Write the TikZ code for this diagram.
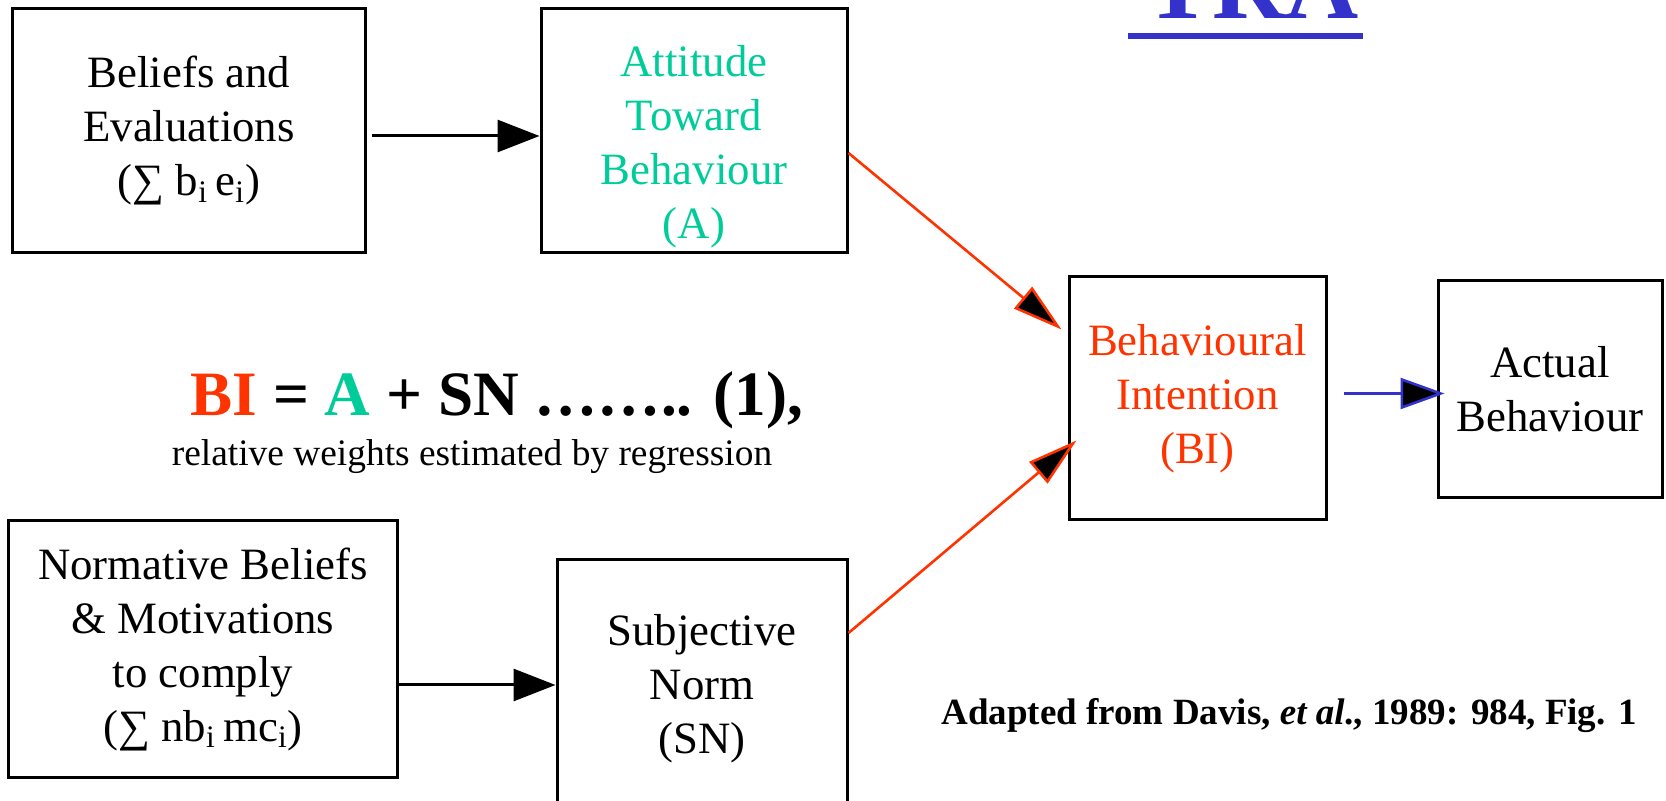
\documentclass[tikz,border=0pt]{standalone}
\usepackage{fontspec}
\setmainfont{Liberation Serif}
\usepackage{xcolor}
\usetikzlibrary{calc,arrows.meta}
\definecolor{trared}{HTML}{FF3300}
\definecolor{tragreen}{HTML}{00CC99}
\definecolor{trablue}{HTML}{3333CC}

\begin{document}
\begin{tikzpicture}[x=0.5pt,y=-0.5pt]
        \tikzstyle{box}=[draw,line width=1.5pt,align=center,inner sep=0pt,font=\fontsize{22.4}{27}\selectfont]
        \tikzstyle{txt}=[inner sep=0pt,anchor=base]
        \tikzstyle{arr}=[line width=1.5pt,-{Triangle[length=21pt,width=16pt,fill=black]}]
        \tikzstyle{redarr}=[trared,line width=1.3pt,-{Triangle[length=25pt,width=14pt,fill=black]}]
        \tikzstyle{bluearr}=[trablue,line width=1.3pt,-{Triangle[length=22pt,width=15.5pt,fill=black]}]
            \useasboundingbox (0,0) rectangle (1666,801);

            \node[box,minimum width=176.5pt,minimum height=122pt] (BE) at (189,131) {Beliefs and\\Evaluations\\(∑ b\textsubscript{i}\,e\textsubscript{i})};
            \node[box,minimum width=153pt,minimum height=122pt,text=tragreen] (AT) at (694,131) {\rule{0pt}{31pt}Attitude\\Toward\\Behaviour\\(A)};
            \node[box,minimum width=128.5pt,minimum height=121.5pt,text=trared] (BI) at (1197.5,398.5) {Behavioural\\Intention\\(BI)};
            \node[box,minimum width=112pt,minimum height=108.5pt] (AB) at (1550,389.5) {Actual\\Behaviour};
            \node[box,minimum width=194.5pt,minimum height=128pt] (NB) at (203,649) {Normative Beliefs\\\& Motivations\\to comply\\(∑ nb\textsubscript{i}\,mc\textsubscript{i})};
            \node[box,minimum width=145pt,minimum height=129pt] (SN) at (702,689) {Subjective\\Norm\\(SN)};

            \node[txt,text=trablue,font=\fontsize{50.7}{60}\bfseries] (TRA) at (1252,19) {TRA};
            \fill[trablue] (1128,33) rectangle (1363,39);

            \node[txt,font=\fontsize{31.6}{37}\bfseries] (EQ) at (497,416) {\textcolor{trared}{BI} = \textcolor{tragreen}{A} + SN …….. (1),};
            \node[txt,font=\fontsize{18.7}{22}\selectfont] (RW) at (472,466) {relative weights estimated by regression};
            \node[txt,font=\fontsize{18.5}{22}\bfseries] (SRC) at (1289,725) {Adapted from Davis, \textit{et al}., 1989: 984, Fig. 1};

            \draw[arr] ([xshift=2.5pt,yshift=-2.5pt]BE.east) -- ([yshift=-2.5pt]AT.west);
            \draw[arr] ([yshift=2pt]SN.west -| NB.east) -- ([yshift=2pt]SN.west);
            \draw[redarr] ([yshift=-11pt]AT.east) -- ([shift={(-3pt,34.5pt)}]BI.west);
            \draw[redarr] ([yshift=28pt]SN.east) -- ([shift={(4.5pt,-21pt)}]BI.west);
            \draw[bluearr] ([xshift=8pt,yshift=-2pt]BI.east |- AB.west) -- ([shift={(4pt,-2pt)}]AB.west);

        \end{tikzpicture}
\end{document}
